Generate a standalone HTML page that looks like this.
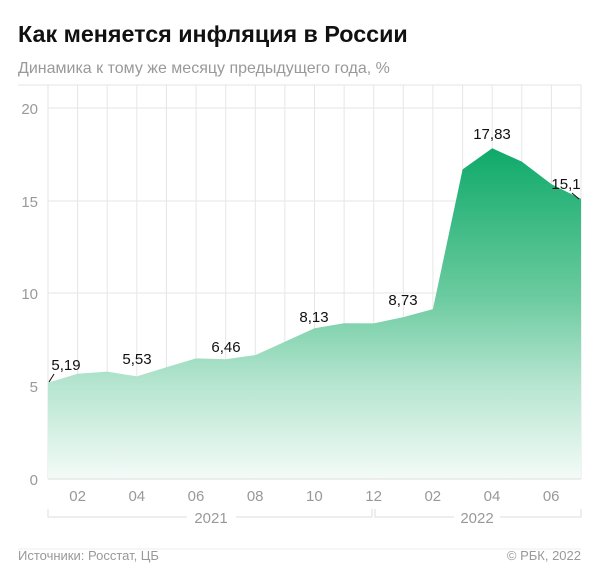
<!DOCTYPE html>
<html><head><meta charset="utf-8"><style>
body{margin:0;background:#fff;width:600px;height:582px;overflow:hidden;font-family:"Liberation Sans",sans-serif}
</style></head><body>
<svg width="600" height="582" viewBox="0 0 600 582" xmlns="http://www.w3.org/2000/svg" font-family="Liberation Sans, sans-serif">
<defs>
<linearGradient id="g" gradientUnits="userSpaceOnUse" x1="0" y1="150" x2="0" y2="479">
<stop offset="0" stop-color="#10aa6b"/>
<stop offset="0.45" stop-color="#6ccba0"/>
<stop offset="0.7" stop-color="#b3e4ce"/>
<stop offset="1" stop-color="#f4fbf8"/>
</linearGradient>
</defs>
<text x="18" y="42" font-size="23.3" font-weight="bold" fill="#111">Как меняется инфляция в России</text>
<text x="18" y="73" font-size="16" fill="#999">Динамика к тому же месяцу предыдущего года, %</text>
<line x1="18" y1="85" x2="581" y2="85" stroke="#eee" stroke-width="1.5"/>
<g stroke="#e6e6e6" stroke-width="1">
<line x1="48" y1="108" x2="581" y2="108"/><line x1="48" y1="201" x2="581" y2="201"/>
<line x1="48" y1="293" x2="581" y2="293"/><line x1="48" y1="386" x2="581" y2="386"/>
<path d="M48 85V479M77.6 85V479M107.2 85V479M136.8 85V479M166.4 85V479M196.1 85V479M225.7 85V479M255.3 85V479M284.9 85V479M314.5 85V479M344.1 85V479M373.7 85V479M403.3 85V479M432.9 85V479M462.6 85V479M492.2 85V479M521.8 85V479M551.4 85V479M581 85V479"/>
</g>
<polygon fill="url(#g)" points="48,382.7 77.6,373.8 107.2,371.6 136.8,376.4 166.4,367.3 196.1,358.4 225.7,359.2 255.3,355.1 284.9,341.7 314.5,328.2 344.1,323.2 373.7,323.4 403.3,317.1 432.9,309.1 462.6,169.4 492.2,148.3 521.8,161.6 551.4,184.1 581,198.9 581,479 48,479"/>
<line x1="48" y1="479" x2="581" y2="479" stroke="#ddd"/>
<g font-size="15" fill="#999" text-anchor="end">
<text x="38" y="114">20</text><text x="38" y="207">15</text><text x="38" y="299">10</text><text x="38" y="392">5</text><text x="38" y="485">0</text>
</g>
<g font-size="15" fill="#999" text-anchor="middle">
<text x="77.6" y="501">02</text><text x="136.8" y="501">04</text><text x="196" y="501">06</text><text x="255.2" y="501">08</text><text x="314.4" y="501">10</text><text x="373.6" y="501">12</text><text x="432.8" y="501">02</text><text x="492" y="501">04</text><text x="551.2" y="501">06</text>
</g>
<g stroke="#ddd" fill="none">
<path d="M48 509V517H187M236 517H372V509"/>
<path d="M375 509V517H454M500 517H581V509"/>
</g>
<g font-size="15" fill="#999" text-anchor="middle"><text x="211" y="523">2021</text><text x="477" y="523">2022</text></g>
<line x1="18" y1="549" x2="581" y2="549" stroke="#eee"/>
<text x="18" y="560" font-size="13" fill="#999">Источники: Росстат, ЦБ</text>
<text x="581" y="560" font-size="13" fill="#999" text-anchor="end">© РБК, 2022</text>
<g font-size="15" fill="#111" text-anchor="middle">
<text x="66" y="370">5,19</text><text x="137" y="364">5,53</text><text x="226" y="352">6,46</text>
<text x="314" y="322">8,13</text><text x="403" y="305">8,73</text><text x="492" y="139">17,83</text><text x="566" y="189">15,1</text>
</g>
<line x1="54" y1="374" x2="49" y2="382" stroke="#111"/>
<line x1="572" y1="193" x2="579" y2="199" stroke="#111"/>
</svg>
</body></html>
